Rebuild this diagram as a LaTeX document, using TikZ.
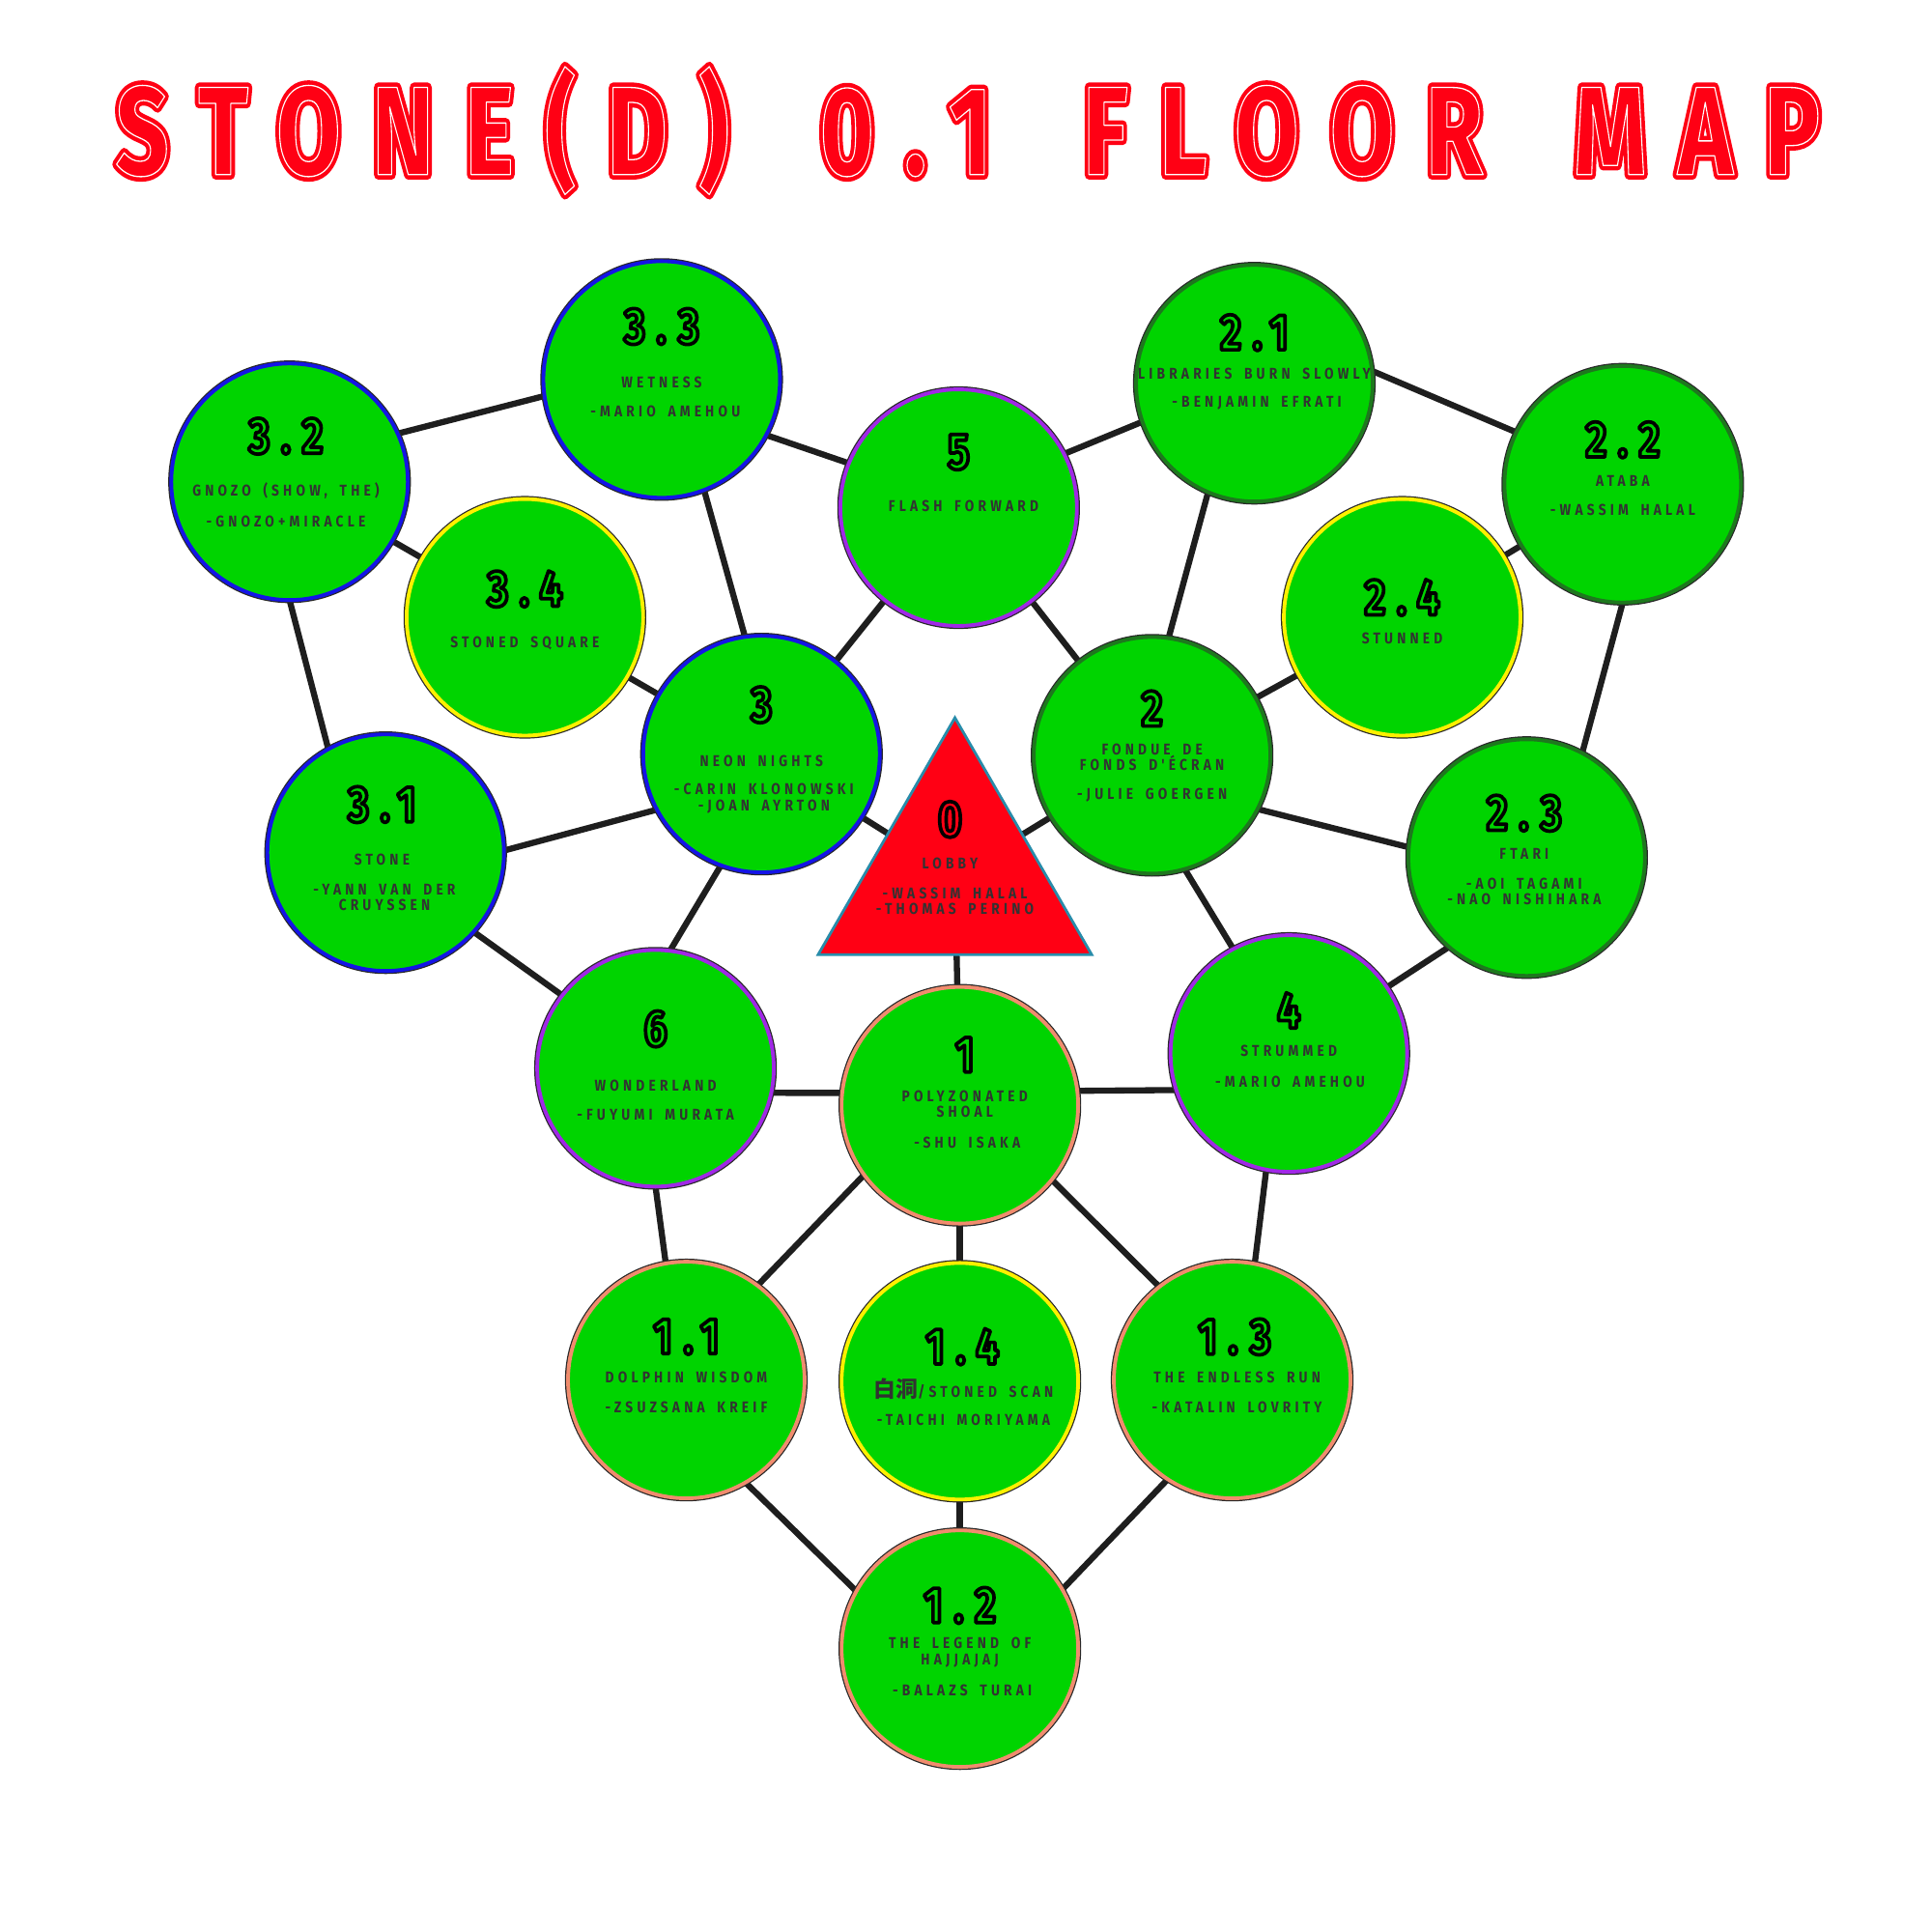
\documentclass[tikz,border=0pt]{standalone}
\usepackage{fontspec}
\usepackage{graphicx}
\usetikzlibrary{shapes.geometric,backgrounds}
\newfontfamily\labfont[LetterSpace=26,FakeStretch=0.85,WordSpace=1.7]{Fira Sans}
\newfontfamily\numfont[LetterSpace=22,FakeStretch=0.8,FakeBold=7]{Fira Sans}
\newfontfamily\ttlfontA[LetterSpace=30,FakeStretch=0.88,WordSpace=1.7,FakeBold=8]{Fira Sans}
\newfontfamily\ttlfontB[LetterSpace=30,FakeStretch=0.88,WordSpace=1.7,FakeBold=1]{Fira Sans}
\newfontfamily\cjkfont{Noto Sans CJK JP}
\definecolor{roomgreen}{RGB}{0,212,0}
\definecolor{ringblue}{RGB}{20,20,230}
\definecolor{ringpurple}{RGB}{160,40,230}
\definecolor{ringyellow}{RGB}{255,240,0}
\definecolor{ringsalmon}{RGB}{240,140,110}
\definecolor{ringgreen}{RGB}{30,120,30}
\definecolor{ringdark}{RGB}{40,40,40}
\definecolor{edgec}{RGB}{30,30,30}
\definecolor{lobbyred}{RGB}{255,0,20}
\definecolor{lobbyedge}{RGB}{40,140,170}
\definecolor{titlered}{RGB}{255,0,20}
\definecolor{labc}{RGB}{50,50,50}
\newcommand\tx[4]{\node[#1] (#2) at (#3) {#4};}
\newcommand\outl{\special{pdf:literal direct 1 j 0 0 0 RG 0 0.831 0 rg}}
\newcommand\outr{\special{pdf:literal direct 1 j 0 0 0 RG 1 0 0.078 rg}}
\newcommand\outw{\special{pdf:literal direct 1 j 1 1 1 RG 1 0 0.078 rg}}
\newcommand\rjoin{\special{pdf:literal direct 1 j}}
\newcommand\nm[3]{\node[num] (#1) at (#2) {\outl #3};}
\tikzset{
 room/.style={circle, fill=roomgreen, draw=#1, line width=1.1pt, minimum size=2.449cm,
   inner sep=0pt, outer sep=0pt, preaction={draw=ringdark, line width=1.8pt}},
 lobby/.style={regular polygon, regular polygon sides=3, fill=lobbyred, draw=lobbyedge,
   line width=0.8pt, minimum size=3.27cm, inner sep=0pt, outer sep=0pt},
 num/.style={inner sep=0pt, font=\fontsize{15}{16}\numfont\bfseries, text=black},
 lab/.style={inner sep=0pt, align=center, font=\fontsize{4.6}{4.7}\labfont\bfseries, text=labc},
 link/.style={draw=edgec, line width=1.8pt},
}
\begin{document}
\begin{tikzpicture}[x=0.012755cm, y=-0.012755cm]
\useasboundingbox (0,0) rectangle (1568,1568);
% title
\node[inner sep=0pt, text=titlered] (title) at (785.5,106)
  {\resizebox{502pt}{\height}{\fontsize{37}{40}\ttlfontA\bfseries\rjoin STONE(D) 0.1 FLOOR MAP}};
\node[inner sep=0pt, text=titlered] (titleline) at (785.5,106)
  {\resizebox{502pt}{\height}{\fontsize{37}{40}\ttlfontB\bfseries\outw STONE(D) 0.1 FLOOR MAP}};
% rooms
\node[room=ringblue] (r33) at (537,308) {};
\node[room=ringblue] (r32) at (235,391) {};
\node[room=ringyellow] (r34) at (426,501) {};
\node[room=ringpurple] (r5) at (778,412) {};
\node[room=ringgreen] (r21) at (1018,311) {};
\node[room=ringgreen] (r22) at (1317,393) {};
\node[room=ringyellow] (r24) at (1138,501) {};
\node[room=ringblue] (r3) at (618,612) {};
\node[room=ringgreen] (r2) at (935,613) {};
\node[room=ringblue] (r31) at (313,692) {};
\node[room=ringgreen] (r23) at (1239,696) {};
\node[lobby] (r0) at (775,710.7) {};
\node[room=ringpurple] (r6) at (532,867) {};
\node[room=ringsalmon] (r1) at (779,897) {};
\node[room=ringpurple] (r4) at (1046,855) {};
\node[room=ringsalmon] (r11) at (557,1120) {};
\node[room=ringyellow] (r14) at (779,1121) {};
\node[room=ringsalmon] (r13) at (1000,1120) {};
\node[room=ringsalmon] (r12) at (779,1338) {};
% connectors
\begin{scope}[on background layer]
\fill[white] (0,0) rectangle (1568,1568);
\draw[link] (r32.24) -- (r33.188);
\draw[link] (r33.-28) -- (r5.158);
\draw[link] (r33.-69) -- (r3.98);
\draw[link] (r5.27) -- (r21.199);
\draw[link] (r21.6) -- (r22.154);
\draw[link] (r21.-113) -- (r2.82);
\draw[link] (r22) -- (r24);
\draw[link] (r22.-90) -- (r23.62);
\draw[link] (r32) -- (r34);
\draw[link] (r32.-90) -- (r31.119);
\draw[link] (r34) -- (r3);
\draw[link] (r5) -- (r3);
\draw[link] (r5) -- (r2);
\draw[link] (r2) -- (r24);
\draw[link] (r31.1) -- (r3.208);
\draw[link] (r3) -- (r0);
\draw[link] (r2) -- (r0);
\draw[link] (r2.-27) -- (r23.175);
\draw[link] (r3.-110) -- (r6.83);
\draw[link] (r2.-74) -- (r4.118);
\draw[link] (r23.229) -- (r4.34);
\draw[link] (r31.-42) -- (r6.142);
\draw[link] (r0) -- (r1);
\draw[link] (r6.-12) -- (r1.174);
\draw[link] (r1.7) -- (r4.198);
\draw[link] (r6.-90) -- (r11.100);
\draw[link] (r1.216) -- (r11.53);
\draw[link] (r1) -- (r14);
\draw[link] (r1.-39) -- (r13.128);
\draw[link] (r4.-101) -- (r13.79);
\draw[link] (r11.-60) -- (r12.151);
\draw[link] (r14) -- (r12);
\draw[link] (r13.237) -- (r12.30);
\end{scope}
% texts
\nm{n33}{537,265}{3.3}
\tx{lab}{a33}{537,310}{WETNESS}
\tx{lab}{b33}{540,334}{-MARIO AMEHOU}
\nm{n32}{232,354}{3.2}
\tx{lab}{a32}{232,398}{GNOZO (SHOW, THE)}
\tx{lab}{b32}{232,423}{-GNOZO+MIRACLE}
\nm{n34}{426,478}{3.4}
\tx{lab}{a34}{426,522}{STONED SQUARE}
\nm{n5}{778,367}{5}
\tx{lab}{a5}{782,411}{FLASH FORWARD}
\nm{n21}{1018,270}{2.1}
\tx{lab}{a21}{1018,303}{LIBRARIES BURN SLOWLY}
\tx{lab}{b21}{1020,327}{-BENJAMIN EFRATI}
\nm{n22}{1317,357}{2.2}
\tx{lab}{a22}{1317,390}{ATABA}
\tx{lab}{b22}{1317,414}{-WASSIM HALAL}
\nm{n24}{1138,485}{2.4}
\tx{lab}{a24}{1138,518}{STUNNED}
\nm{n3}{618,572}{3}
\tx{lab}{a3}{618,618}{NEON NIGHTS}
\tx{lab}{b3}{620,648}{-CARIN KLONOWSKI\\-JOAN AYRTON}
\nm{n2}{935,575}{2}
\tx{lab}{a2}{935,614.5}{FONDUE DE\\FONDS D'ÉCRAN}
\tx{lab}{b2}{935,645}{-JULIE GOERGEN}
\nm{n31}{310,653}{3.1}
\tx{lab}{a31}{310,698}{STONE}
\tx{lab}{b31}{312,728.5}{-YANN VAN DER\\CRUYSSEN}
\nm{n23}{1237,660}{2.3}
\tx{lab}{a23}{1237,693}{FTARI}
\tx{lab}{b23}{1237,723.5}{-AOI TAGAMI\\-NAO NISHIHARA}
\node[num] (n0) at (771,665) {\outr 0};
\tx{lab}{a0}{771,701}{LOBBY}
\tx{lab}{b0}{775,731.5}{-WASSIM HALAL\\-THOMAS PERINO}
\nm{n6}{532,835}{6}
\tx{lab}{a6}{532,881}{WONDERLAND}
\tx{lab}{b6}{532,905}{-FUYUMI MURATA}
\nm{n1}{783,856}{1}
\tx{lab}{a1}{783,896}{POLYZONATED\\SHOAL}
\tx{lab}{b1}{785,927}{-SHU ISAKA}
\nm{n4}{1046,820}{4}
\tx{lab}{a4}{1046,853}{STRUMMED}
\tx{lab}{b4}{1047,878}{-MARIO AMEHOU}
\nm{n11}{557,1085}{1.1}
\tx{lab}{a11}{557,1118}{DOLPHIN WISDOM}
\tx{lab}{b11}{557,1142}{-ZSUZSANA KREIF}
\nm{n14}{781,1093}{1.4}
\tx{lab}{a14}{782,1127}{{\fontsize{6.5}{7}\cjkfont 白洞}/STONED SCAN}
\tx{lab}{b14}{782,1152}{-TAICHI MORIYAMA}
\nm{n13}{1002,1085}{1.3}
\tx{lab}{a13}{1004,1118}{THE ENDLESS RUN}
\tx{lab}{b13}{1004,1142}{-KATALIN LOVRITY}
\nm{n12}{779,1303}{1.2}
\tx{lab}{a12}{779,1341}{THE LEGEND OF\\HAJJAJAJ}
\tx{lab}{b12}{781,1372}{-BALAZS TURAI}
\end{tikzpicture}
\end{document}
